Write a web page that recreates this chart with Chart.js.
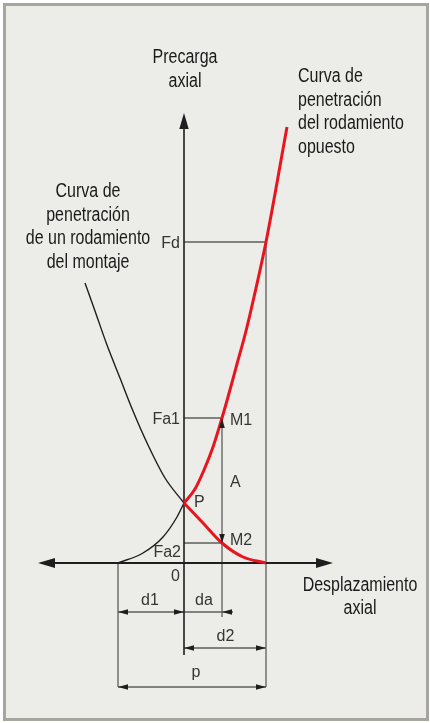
<!DOCTYPE html>
<html>
<head>
<meta charset="utf-8">
<script src="https://cdn.jsdelivr.net/npm/chart.js@4.4.0/dist/chart.umd.min.js"></script>
<style>
html,body{margin:0;padding:0;background:#fff;}
canvas{display:block;}
</style>
</head>
<body>
<canvas id="c" width="430" height="723"></canvas>
<script>
// ---- curve data (axial displacement, axial preload), arbitrary units ----
const opposedLower = [[0,6.0],[1.9,4.0],[3.8,2.0],[5.9,0.6],[8.2,0]];
const opposedUpper = [[0,6.0],[1.1,7.4],[2.0,9.3],[2.9,11.6],[3.8,14.5],[4.4,16.6],[5.3,19.9],[6.2,23.2],[7.0,26.6],[8.2,32.1],[10.3,43.6]];
const mountLower = [[-6.6,0],[-4.1,1.0],[-2.1,2.6],[-0.7,4.6],[0,6.0]];
const mountUpper = [[-9.9,28.0],[-8.9,25.2],[-7.7,21.8],[-6.4,18.5],[-5.1,15.2],[-3.6,11.8],[-1.9,8.5],[0,6.0]];

// ---- characteristic values ----
const dispNames = ['d1','da','d2'];
const dispValues = [-6.6, 3.8, 8.2];
const loadNames = ['Fa2','Fa1','Fd'];
const loadValues = [2.0, 14.5, 32.1];
const pointP = [0, 6.0];

// ---- axis extents ----
const xAxisRange = [-14.6, 14.9];
const yAxisRange = [-9.2, 45.0];
const dimRows = [-4.9, -8.5, -12.4];

const d1 = dispValues[0], da = dispValues[1], d2 = dispValues[2];
const Fa2 = loadValues[0], Fa1 = loadValues[1], Fd = loadValues[2];

const pts = a => a.map(p => ({x:p[0], y:p[1]}));
const seg = (x1,y1,x2,y2) => [{x:x1,y:y1},{x:x2,y:y2}];

const RED = '#e8151f';
const GREY = '#5e5e5e';
const DARK = '#1e1e1e';

function lineDs(data, color, width, smooth) {
  const ds = {data, showLine:true, borderColor:color, borderWidth:width, pointRadius:0,
          fill:false, borderCapStyle:'butt', tension:0};
  if (smooth) { ds.tension = 0.4; ds.cubicInterpolationMode = 'monotone'; }
  return ds;
}

const datasets = [
  lineDs(pts(opposedLower), RED, 3, true),
  lineDs(pts(opposedUpper), RED, 3, true),
  lineDs(pts(mountLower), DARK, 1.4, true),
  lineDs(pts(mountUpper), DARK, 1.4, true),
  // axes
  lineDs(seg(xAxisRange[0]+1.0,0,xAxisRange[1]-1.0,0), DARK, 2),
  lineDs(seg(0,yAxisRange[0],0,yAxisRange[1]-1.0), DARK, 1.6),
  // reference lines
  lineDs(seg(0,Fd,d2,Fd), GREY, 1.3),
  lineDs(seg(0,Fa1,da,Fa1), GREY, 1.3),
  lineDs(seg(0,Fa2,da,Fa2), GREY, 1.3),
  lineDs(seg(d2,Fd,d2,dimRows[2]), GREY, 1.3),
  lineDs(seg(d1,0,d1,dimRows[2]), GREY, 1.3),
  lineDs(seg(da,Fa1,da,dimRows[0]-0.5), GREY, 1.3),
  lineDs(seg(d1,dimRows[0],da+1.1,dimRows[0]), GREY, 1.3),
  lineDs(seg(0,dimRows[1],d2,dimRows[1]), GREY, 1.3),
  lineDs(seg(d1,dimRows[2],d2,dimRows[2]), GREY, 1.3)
];

function arrow(ctx, x, y, dir, len, hw, color) {
  ctx.save();
  ctx.fillStyle = color;
  ctx.translate(x, y);
  const ang = {right:0, down:Math.PI/2, left:Math.PI, up:-Math.PI/2}[dir];
  ctx.rotate(ang);
  ctx.beginPath();
  ctx.moveTo(0,0);
  ctx.lineTo(-len,-hw);
  ctx.lineTo(-len,hw);
  ctx.closePath();
  ctx.fill();
  ctx.restore();
}

function narrowText(ctx, text, x, y) {
  ctx.save();
  ctx.translate(x, y);
  ctx.scale(0.82, 1);
  ctx.fillText(text, 0, 0);
  ctx.restore();
}

const framePlugin = {
  id:'frame',
  beforeDraw(chart){
    const ctx = chart.ctx;
    ctx.save();
    ctx.fillStyle = '#ffffff';
    ctx.fillRect(0,0,chart.width,chart.height);
    ctx.fillStyle = '#ececE8';
    ctx.fillRect(4,4,424,716);
    ctx.strokeStyle = '#a6a69e';
    ctx.lineWidth = 3;
    ctx.strokeRect(4.5,4.5,423,715);
    ctx.restore();
  }
};

const annoPlugin = {
  id:'anno',
  afterDatasetsDraw(chart){
    const ctx = chart.ctx;
    const X = v => chart.scales.x.getPixelForValue(v);
    const Y = v => chart.scales.y.getPixelForValue(v);
    // axis arrowheads
    arrow(ctx, X(xAxisRange[0]), Y(0), 'left', 17, 5, DARK);
    arrow(ctx, X(xAxisRange[1]), Y(0), 'right', 17, 5, DARK);
    arrow(ctx, X(0), Y(yAxisRange[1]), 'up', 16, 4.7, DARK);
    // dimension arrowheads
    const L = 10, H = 2.8;
    arrow(ctx, X(d1), Y(dimRows[0]), 'left', L, H, DARK);
    arrow(ctx, X(0), Y(dimRows[0]), 'right', L, H, DARK);
    arrow(ctx, X(da), Y(dimRows[0]), 'left', L, H, DARK);
    arrow(ctx, X(0), Y(dimRows[1]), 'left', L, H, DARK);
    arrow(ctx, X(d2), Y(dimRows[1]), 'right', L, H, DARK);
    arrow(ctx, X(d1), Y(dimRows[2]), 'left', L, H, DARK);
    arrow(ctx, X(d2), Y(dimRows[2]), 'right', L, H, DARK);
    arrow(ctx, X(da), Y(Fa1), 'up', 10, 2.8, DARK);
    arrow(ctx, X(da), Y(Fa2), 'down', 9, 2.8, DARK);

    // small labels
    ctx.save();
    ctx.fillStyle = '#353535';
    ctx.font = '16px "Liberation Sans", Arial, sans-serif';
    ctx.textBaseline = 'alphabetic';
    ctx.textAlign = 'right';
    ctx.fillText(loadNames[2], X(0)-4, Y(Fd)+6);
    ctx.fillText(loadNames[1], X(0)-4, Y(Fa1)+6);
    ctx.fillText(loadNames[0], X(0)-3, Y(Fa2)+14);
    ctx.fillText('0', X(0)-4, Y(0)+18);
    ctx.textAlign = 'left';
    ctx.fillText('M1', X(da)+8, Y(Fa1)+7);
    ctx.fillText('M2', X(da)+8, Y(Fa2)+2);
    ctx.fillText('A', X(da)+8, Y((Fa1+Fa2)/2)+6);
    ctx.fillText('P', X(pointP[0])+10, Y(pointP[1])+4);
    ctx.textAlign = 'center';
    ctx.fillText(dispNames[0], X(d1/2)-1, Y(dimRows[0])-7);
    ctx.fillText(dispNames[1], X(da/2)+1, Y(dimRows[0])-7);
    ctx.fillText(dispNames[2], X(d2/2)+0.5, Y(dimRows[1])-7);
    ctx.fillText('p', X((d1+d2)/2)+4, Y(dimRows[2])-10);
    ctx.restore();

    // titles (condensed sans)
    ctx.save();
    ctx.fillStyle = '#1a1a1a';
    ctx.font = '19.5px "Liberation Sans", Arial, sans-serif';
    ctx.textBaseline = 'alphabetic';
    ctx.textAlign = 'center';
    narrowText(ctx, 'Precarga', 185, 63);
    narrowText(ctx, 'axial', 185, 87);
    const leftLines = ['Curva de','penetración','de un rodamiento','del montaje'];
    leftLines.forEach((t,i)=>narrowText(ctx, t, 88, 197 + i*23.5));
    narrowText(ctx, 'Desplazamiento', 360, 591);
    narrowText(ctx, 'axial', 360, 614);
    ctx.textAlign = 'left';
    const rightLines = ['Curva de','penetración','del rodamiento','opuesto'];
    rightLines.forEach((t,i)=>narrowText(ctx, t, 298, 82 + i*23.5));
    ctx.restore();
  }
};

new Chart(document.getElementById('c'), {
  type:'scatter',
  data:{datasets},
  options:{
    responsive:false,
    animation:false,
    devicePixelRatio:1,
    events:[],
    layout:{padding:0},
    plugins:{legend:{display:false}, tooltip:{enabled:false}, title:{display:false}},
    scales:{
      x:{type:'linear', min:-18.4, max:24.6, display:false},
      y:{type:'linear', min:-16.0, max:56.3, display:false}
    }
  },
  plugins:[framePlugin, annoPlugin]
});
</script>
</body>
</html>
